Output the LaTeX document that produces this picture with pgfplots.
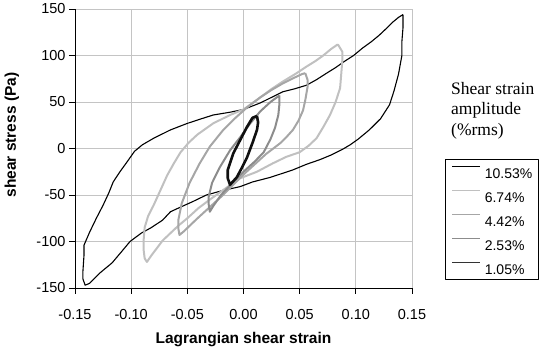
\documentclass[border=0pt]{standalone}
\usepackage{fontspec}
\setmainfont{Liberation Sans}
\newfontfamily\timesfont{Liberation Serif}
\usepackage{pgfplots}
\pgfplotsset{compat=1.18}
\definecolor{gridc}{HTML}{C4C4C4}
\definecolor{cA}{HTML}{000000}
\definecolor{cB}{HTML}{C0C0C0}
\definecolor{cC}{HTML}{A6A6A6}
\definecolor{cD}{HTML}{8C8C8C}
\definecolor{cE}{HTML}{101010}
\begin{document}
\begin{tikzpicture}[x=1pt,y=1pt]
\begin{axis}[
  name=ax,
  at={(75pt,65pt)}, anchor=south west,
  scale only axis, width=337pt, height=279pt,
  xmin=-0.15, xmax=0.15, ymin=-150, ymax=150,
  axis lines=left, axis line style={-, black, line width=0.8pt},
  xtick={-0.15,-0.1,-0.05,0,0.05,0.1,0.15},
  xticklabels={-0.15,-0.10,-0.05,0.00,0.05,0.10,0.15},
  ytick={-150,-100,-50,0,50,100,150},
  yticklabels={-150,-100,-50,0,50,100,150},
  grid=major, major grid style={gridc, line width=0.8pt},
  tick align=outside, major tick length=6pt, tick style={black, line width=0.8pt},
  ticklabel style={font=\fontsize{14.5}{16}\selectfont},
  xticklabel style={yshift=-12pt},
  xlabel={Lagrangian shear strain}, ylabel={shear stress (Pa)},
  label style={font=\bfseries\fontsize{15.5}{18}\selectfont},
  xlabel style={at={(axis description cs:0.5,-0.2)}, anchor=base},
  ylabel style={at={(axis description cs:-0.187,0.548)}, anchor=center},
  legend style={at={(axis description cs:1.0979,0.4624)}, anchor=north west,
    draw=black, line width=0.8pt, font=\fontsize{14}{16}\selectfont,
    inner xsep=6pt, inner ysep=0pt, row sep=0pt,
    nodes={inner sep=0pt, text height=18.7pt, text depth=5.3pt}},
  legend cell align=left,
  legend image code/.code={\draw[#1] (0pt,5pt) -- (28pt,5pt); \path (32pt,5pt);},
  line join=round,
]
\addplot[cA, line width=1.1pt, no marks, legend image post style={line width=0.9pt}] coordinates {
(0.142,144) (0.142,130) (0.141,115) (0.141,100) (0.138,80) (0.134,62) (0.130,47)
(0.122,32) (0.112,20) (0.102,10) (0.095,4) (0.088,-1) (0.078,-7) (0.068,-12)
(0.056,-17) (0.044,-23) (0.034,-27) (0.024,-31) (0.008,-36) (-0.003,-41)
(-0.018,-45) (-0.033,-50) (-0.045,-57) (-0.056,-63) (-0.065,-68) (-0.072,-77)
(-0.082,-85) (-0.091,-91) (-0.101,-100) (-0.110,-113) (-0.117,-123) (-0.128,-134)
(-0.137,-145) (-0.141,-147) (-0.143,-140) (-0.143,-133) (-0.142,-115) (-0.142,-104)
(-0.137,-90) (-0.131,-75) (-0.125,-61) (-0.120,-48) (-0.116,-36) (-0.110,-25)
(-0.104,-15) (-0.097,-3) (-0.090,4) (-0.080,11) (-0.065,20) (-0.050,27)
(-0.040,31) (-0.027,36) (-0.012,39) (0.000,42) (0.015,49) (0.025,55) (0.035,61)
(0.045,64) (0.056,68) (0.065,74) (0.074,81) (0.082,87) (0.089,93) (0.098,100)
(0.106,108) (0.114,115) (0.121,122) (0.128,130) (0.133,136) (0.138,141) (0.142,144)
};
\addlegendentry{10.53\%}
\addplot[cB, line width=2pt, no marks, legend image post style={line width=0.9pt}] coordinates {
(0.084,112) (0.088,104) (0.088,95) (0.087,80) (0.086,65) (0.082,50) (0.077,36)
(0.071,23) (0.065,11) (0.058,3) (0.050,-4) (0.038,-9) (0.026,-16) (0.012,-25)
(-0.003,-32) (-0.015,-42) (-0.030,-55) (-0.040,-64) (-0.050,-75) (-0.058,-83)
(-0.065,-91) (-0.072,-99) (-0.077,-107) (-0.082,-115) (-0.086,-122) (-0.088,-118)
(-0.089,-108) (-0.089,-100) (-0.088,-85) (-0.085,-73) (-0.080,-61) (-0.074,-45)
(-0.068,-29) (-0.062,-16) (-0.056,-4) (-0.049,6) (-0.041,15) (-0.027,27)
(-0.012,36) (0.000,42) (0.015,55) (0.025,64) (0.035,72) (0.046,80) (0.056,88)
(0.064,94) (0.071,100) (0.078,107) (0.084,112)
};
\addlegendentry{6.74\%}
\addplot[cC, line width=2pt, no marks, legend image post style={line width=0.9pt}] coordinates {
(0.055,81) (0.057,74) (0.057,66) (0.055,52) (0.053,41) (0.049,30) (0.044,20)
(0.038,12) (0.033,6) (0.020,-6) (0.010,-17) (0.000,-28) (-0.010,-40) (-0.020,-52)
(-0.030,-63) (-0.040,-74) (-0.047,-82) (-0.053,-89) (-0.057,-93) (-0.058,-86)
(-0.058,-77) (-0.055,-59) (-0.048,-37) (-0.039,-16) (-0.030,2) (-0.018,20)
(-0.008,32) (0.003,44) (0.015,55) (0.025,63) (0.035,70) (0.045,76) (0.052,80) (0.055,81)
};
\addlegendentry{4.42\%}
\addplot[cD, line width=2pt, no marks, legend image post style={line width=0.9pt}] coordinates {
(0.032,57) (0.032,48) (0.031,36) (0.028,22) (0.024,10) (0.018,-4) (0.010,-14)
(0.000,-25) (-0.010,-37) (-0.020,-50) (-0.027,-62) (-0.030,-68) (-0.031,-60)
(-0.031,-52) (-0.028,-37) (-0.021,-20) (-0.012,-2) (-0.003,12) (0.006,27)
(0.015,40) (0.024,50) (0.032,57)
};
\addlegendentry{2.53\%}
\addplot[cE, line width=2.6pt, no marks, legend image post style={line width=1.4pt, draw=black!80}] coordinates {
(0.012,35) (0.013,28) (0.012,20) (0.008,6) (0.003,-10) (-0.002,-22) (-0.006,-31)
(-0.012,-39) (-0.014,-32) (-0.014,-23) (-0.009,-5) (-0.003,9) (0.003,23)
(0.008,33) (0.012,35)
};
\addlegendentry{1.05\%}
\end{axis}
\node[anchor=north west, align=left, inner sep=0pt,
  font=\timesfont\fontsize{17.5}{20.5}\selectfont]
  at (451,271) {Shear strain\\amplitude\\(\%rms)};
\pgfresetboundingbox
\useasboundingbox (0,0) rectangle (539,353);
\end{tikzpicture}
\end{document}
